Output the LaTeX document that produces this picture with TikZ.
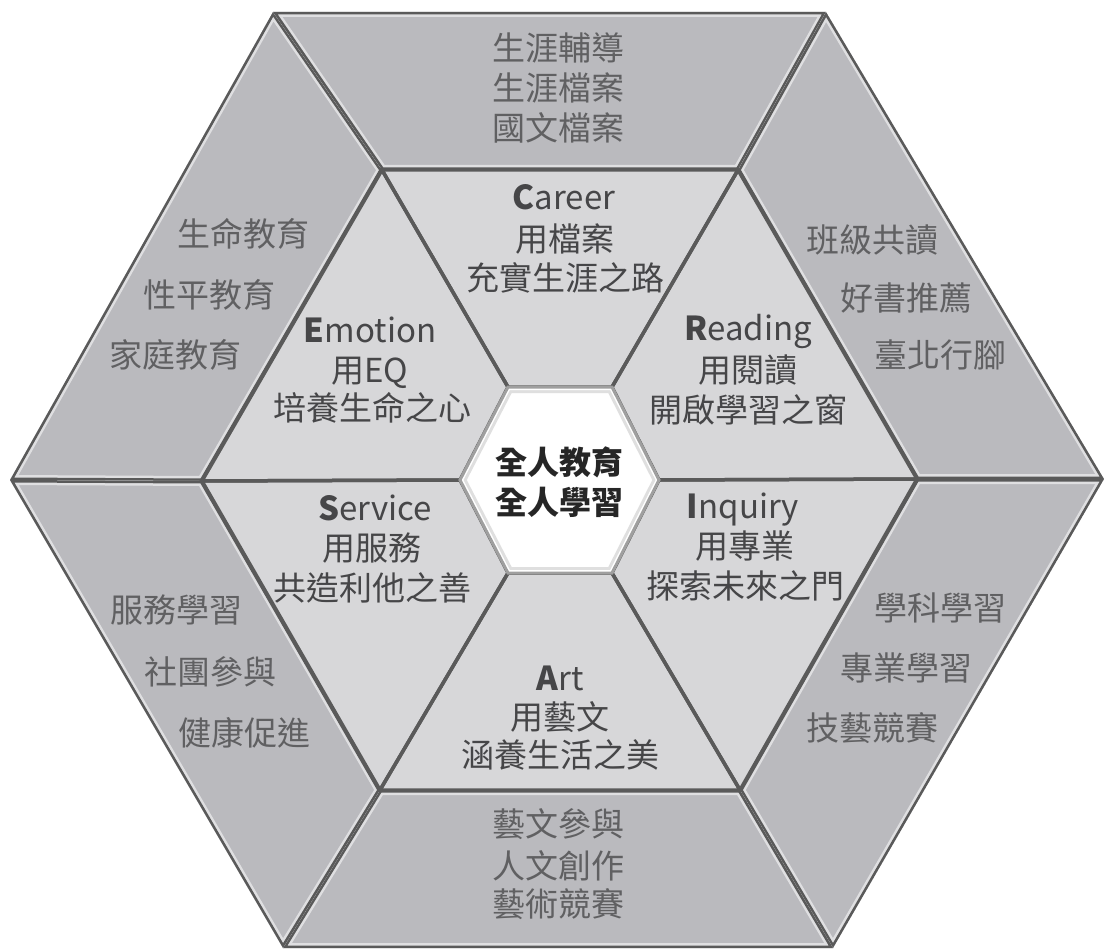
\documentclass[tikz,border=0pt]{standalone}
\usepackage{fontspec}
\setmainfont{Noto Sans CJK TC}
\definecolor{outerfill}{HTML}{BABABE}
\definecolor{innerfill}{HTML}{D7D7D9}
\definecolor{edgecol}{HTML}{5A5A5A}
\definecolor{outertext}{HTML}{606062}
\definecolor{innertext}{HTML}{464648}
\begin{document}
\begin{tikzpicture}[x=1pt,y=-1pt,
  lbl/.style={anchor=base, inner sep=0pt, font=\fontsize{33}{33}\selectfont},
  outerlbl/.style={lbl, text=outertext},
  innerlbl/.style={lbl, text=innertext},
  centerlbl/.style={anchor=base, inner sep=0pt, text=black!85, font=\fontsize{32}{32}\selectfont\bfseries},
  hilite/.style={line width=10pt, white, opacity=0.55, line join=miter},
  outeredge/.style={line width=5pt, edgecol, line join=miter},
  inneredge/.style={line width=3.5pt, edgecol, line join=miter},
  centeredge/.style={line width=3pt, gray!75, line join=miter},
  centerglow/.style={line width=12pt, gray!25, line join=miter}]
\useasboundingbox (0,0) rectangle (1105,952);
% outer hexagon vertices
\coordinate (O1) at (10,480);
\coordinate (O2) at (273,12);
\coordinate (O3) at (826,12);
\coordinate (O4) at (1104,479);
\coordinate (O5) at (833,948);
\coordinate (O6) at (283,948);
% inner hexagon vertices
\coordinate (I1) at (202,481);
\coordinate (I2) at (382,170);
\coordinate (I3) at (738,170);
\coordinate (I4) at (917,479);
\coordinate (I5) at (740,790);
\coordinate (I6) at (380,790);
% centre hexagon vertices
\coordinate (C1) at (460,480);
\coordinate (C2) at (508,387);
\coordinate (C3) at (612,387);
\coordinate (C4) at (659,480);
\coordinate (C5) at (612,573);
\coordinate (C6) at (508,573);
% outer ring segments
\foreach \a/\b in {1/2,2/3,3/4,4/5,5/6,6/1}{
  \begin{scope}
    \clip (O\a) -- (O\b) -- (I\b) -- (I\a) -- cycle;
    \fill[outerfill] (O\a) -- (O\b) -- (I\b) -- (I\a) -- cycle;
    \draw[hilite] (O\a) -- (O\b) -- (I\b) -- (I\a) -- cycle;
    \draw[outeredge] (O\a) -- (O\b) -- (I\b) -- (I\a) -- cycle;
  \end{scope}
}
% inner ring segments
\foreach \a/\b in {1/2,2/3,3/4,4/5,5/6,6/1}{
  \fill[innerfill] (I\a) -- (I\b) -- (C\b) -- (C\a) -- cycle;
}
\foreach \a/\b in {1/2,2/3,3/4,4/5,5/6,6/1}{
  \draw[inneredge] (I\a) -- (I\b) -- (C\b) -- (C\a) -- cycle;
}
% centre hexagon
\begin{scope}
  \clip (C1) -- (C2) -- (C3) -- (C4) -- (C5) -- (C6) -- cycle;
  \fill[white] (C1) -- (C2) -- (C3) -- (C4) -- (C5) -- (C6) -- cycle;
  \draw[centerglow] (C1) -- (C2) -- (C3) -- (C4) -- (C5) -- (C6) -- cycle;
  \draw[line width=6pt, white] (C1) -- (C2) -- (C3) -- (C4) -- (C5) -- (C6) -- cycle;
\end{scope}
\draw[centeredge] (C1) -- (C2) -- (C3) -- (C4) -- (C5) -- (C6) -- cycle;

% centre text
\node[centerlbl] (c1) at (559,474) {全人教育};
\node[centerlbl] (c2) at (559,514) {全人學習};

% inner ring texts
\node[innerlbl] (ca1) at (564,210) {{\bfseries C}areer};
\node[innerlbl] (ca2) at (565,251) {用檔案};
\node[innerlbl] (ca3) at (565,290) {充實生涯之路};

\node[innerlbl] (em1) at (370,342) {{\bfseries E}motion};
\node[innerlbl] (em2) at (370,382) {用EQ};
\node[innerlbl] (em3) at (372,420) {培養生命之心};

\node[innerlbl] (re1) at (748,340) {{\bfseries R}eading};
\node[innerlbl] (re2) at (748,382) {用閱讀};
\node[innerlbl] (re3) at (748,422) {開啟學習之窗};

\node[innerlbl] (se1) at (375,520) {{\bfseries S}ervice};
\node[innerlbl] (se2) at (372,560) {用服務};
\node[innerlbl] (se3) at (372,600) {共造利他之善};

\node[innerlbl] (in1) at (743,518) {{\bfseries I}nquiry};
\node[innerlbl] (in2) at (745,558) {用專業};
\node[innerlbl] (in3) at (745,598) {探索未來之門};

\node[innerlbl] (ar1) at (560,690) {{\bfseries A}rt};
\node[innerlbl] (ar2) at (560,729) {用藝文};
\node[innerlbl] (ar3) at (560,767) {涵養生活之美};

% outer ring texts
\node[outerlbl] (t1) at (558,61) {生涯輔導};
\node[outerlbl] (t2) at (558,101) {生涯檔案};
\node[outerlbl] (t3) at (558,141) {國文檔案};

\node[outerlbl] (lt1) at (243,246) {生命教育};
\node[outerlbl] (lt2) at (209,307) {性平教育};
\node[outerlbl] (lt3) at (175,367) {家庭教育};

\node[outerlbl] (rt1) at (872,252) {班級共讀};
\node[outerlbl] (rt2) at (906,310) {好書推薦};
\node[outerlbl] (rt3) at (940,367) {臺北行腳};

\node[outerlbl] (lb1) at (176,622) {服務學習};
\node[outerlbl] (lb2) at (210,684) {社團參與};
\node[outerlbl] (lb3) at (244,745) {健康促進};

\node[outerlbl] (rb1) at (940,620) {學科學習};
\node[outerlbl] (rb2) at (906,680) {專業學習};
\node[outerlbl] (rb3) at (872,740) {技藝競賽};

\node[outerlbl] (b1) at (558,836) {藝文參與};
\node[outerlbl] (b2) at (558,878) {人文創作};
\node[outerlbl] (b3) at (558,916) {藝術競賽};
\end{tikzpicture}
\end{document}
